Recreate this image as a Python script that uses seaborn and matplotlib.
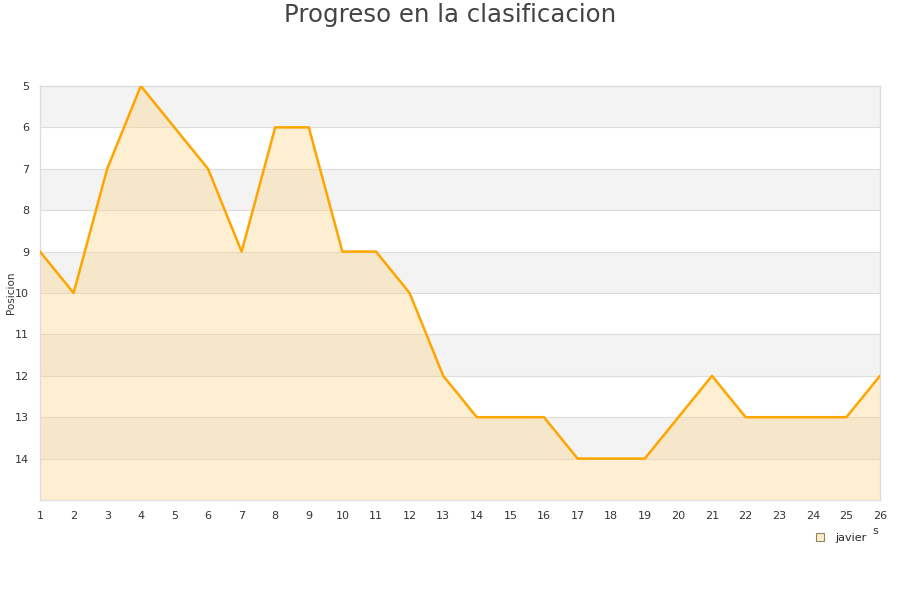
import matplotlib
matplotlib.use("Agg")
import matplotlib.pyplot as plt
import seaborn as sns
import pandas as pd
from matplotlib.lines import Line2D

jornadas = list(range(1, 27))
posicion = [9, 10, 7, 5, 6, 7, 9, 6, 6, 9, 9, 10, 12, 13, 13, 13, 14, 14, 14, 13, 12, 13, 13, 13, 13, 12]
y_ticks = list(range(5, 15))
series_name = "javier"
title = "Progreso en la clasificacion"

df = pd.DataFrame({"jornada": jornadas, "posicion": posicion})

sns.set_theme(style="white")
plt.rcParams['font.family'] = ['DejaVu Sans']

fig = plt.figure(figsize=(9, 6), dpi=100)
ax = fig.add_axes([40/900, 1 - 500/600, 840/900, 414/600])

# alternating bands
for y0 in range(5, 15, 2):
    ax.axhspan(y0, y0 + 1, color="#f3f3f3", zorder=0, lw=0)
for y in range(6, 15):
    ax.axhline(y, color="#dddddd", lw=0.8, zorder=1)

ax.fill_between(df["jornada"], df["posicion"], 15, color="#ffd27f", alpha=0.35, lw=0, zorder=2)
sns.lineplot(data=df, x="jornada", y="posicion", ax=ax, color="#ffa500", lw=1.8, zorder=3)

ax.set_xlim(1, 26)
ax.set_ylim(15, 5)
ax.set_xticks(jornadas)
ax.set_yticks(y_ticks)
ax.tick_params(axis="both", labelsize=8, colors="#333333", length=0, pad=8)
ax.set_xlabel("")
ax.set_ylabel("")
for s in ["top", "right", "bottom", "left"]:
    ax.spines[s].set_color("#dddddd")
    ax.spines[s].set_linewidth(1)

fig.text(11/900, 1 - 293/600, "Posicion", rotation=90, ha="center", va="center", fontsize=7.5, color="#333333")
fig.text(0.5, 1 - 15/600, title, ha="center", va="center", fontsize=17.6, color="#444444")
fig.text(875/900, 1 - 531/600, "s", ha="center", va="center", fontsize=8, color="#333333")

handle = Line2D([], [], marker="s", ls="none", markersize=6,
                markerfacecolor="#ffebc8", markeredgecolor="#888866", markeredgewidth=0.8)
fig.legend([handle], [series_name], loc="center", bbox_to_anchor=(838/900, 1 - 538/600),
           frameon=False, fontsize=8, handletextpad=0.4, borderpad=0)

fig.savefig("out.png", dpi=100)
